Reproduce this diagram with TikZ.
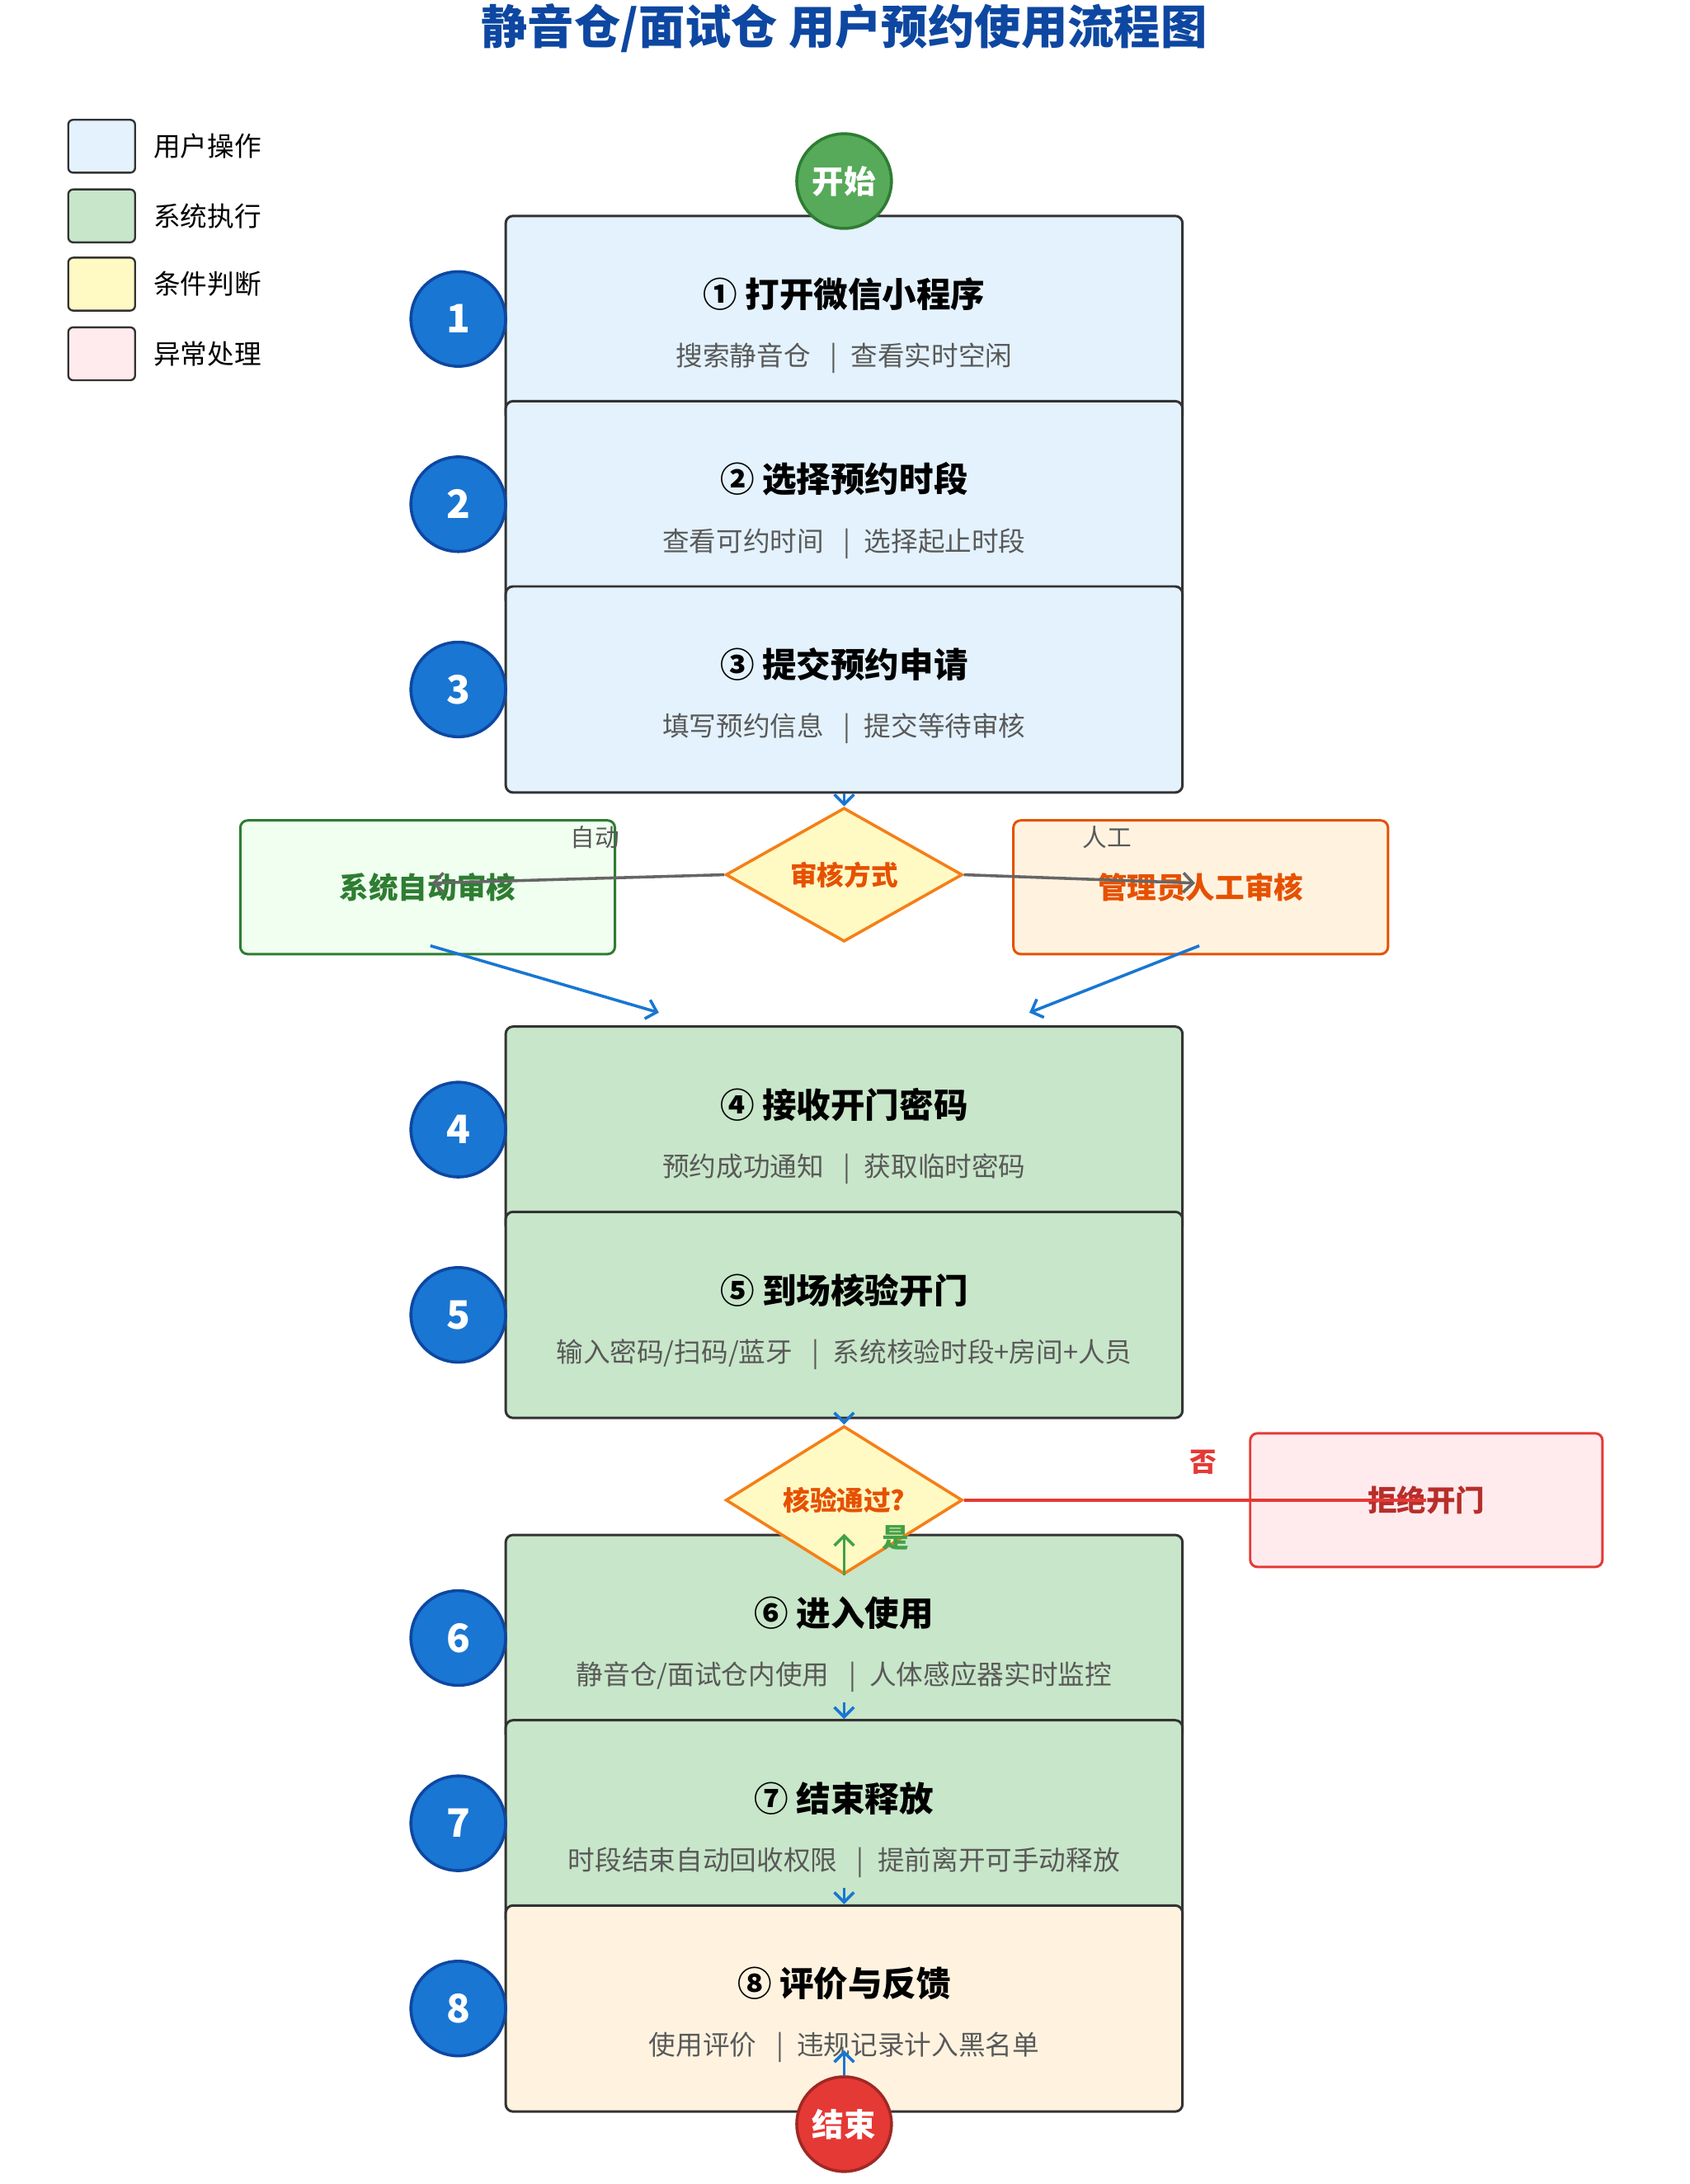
\documentclass[tikz,border=0pt]{standalone}
\usepackage{fontspec}
\setmainfont{Noto Sans CJK SC}
\usetikzlibrary{shapes.geometric,arrows.meta,positioning}
\definecolor{userfill}{HTML}{E3F2FD}
\definecolor{sysfill}{HTML}{C8E6C9}
\definecolor{condfill}{HTML}{FFF9C4}
\definecolor{errfill}{HTML}{FFEBEE}
\definecolor{endfill}{HTML}{FFF3E0}
\definecolor{numblue}{HTML}{1976D2}
\definecolor{numedge}{HTML}{0D47A1}
\definecolor{okgreen}{HTML}{43A047}
\definecolor{darkgreen}{HTML}{2E7D32}
\definecolor{darkorange}{HTML}{E65100}
\definecolor{condedge}{HTML}{F57F17}
\definecolor{errred}{HTML}{E53935}
\definecolor{titleblue}{HTML}{0D47A1}

\begin{document}
\begin{tikzpicture}[x=0.02cm, y=-0.02cm,
        stepbox/.style={rectangle, rounded corners=3pt, draw=black!80, line width=1pt, minimum width=9.72cm, minimum height=2.96cm},
        num/.style={circle, draw=numedge, line width=1.2pt, fill=numblue, minimum size=1.36cm, inner sep=0, text=white, font=\bfseries\fontsize{16}{18}\selectfont},
        term/.style={circle, line width=1.2pt, minimum size=1.36cm, inner sep=0, text=white, font=\bfseries\fontsize{13}{15}\selectfont},
        cond/.style={diamond, draw=condedge, line width=1.2pt, fill=condfill, minimum width=3.4cm, minimum height=1.84cm, inner sep=0, text=darkorange, font=\bfseries\fontsize{11}{13}\selectfont},
        side/.style={rectangle, rounded corners=3pt, line width=1pt, minimum width=5.38cm, minimum height=1.92cm, font=\bfseries\fontsize{12}{14}\selectfont},
        legbox/.style={rectangle, rounded corners=2pt, draw=black!80, line width=0.8pt, minimum width=0.96cm, minimum height=0.76cm},
        legtxt/.style={right, font=\fontsize{11}{13}\selectfont},
        arrow/.style={-{Straight Barb[length=4pt]}, line width=1.2pt, numblue}
    ]
    \useasboundingbox (0,0) rectangle (1213,1568);
    \node[font=\bfseries\fontsize{19}{22}\selectfont, text=titleblue] (title) at (606,20) {静音仓/面试仓 用户预约使用流程图};

    % legend
    \foreach \c/\y/\t in {userfill/105/用户操作, sysfill/155/系统执行, condfill/204/条件判断, errfill/254/异常处理}{
        \node[legbox, fill=\c] (leg\y) at (73,\y) {};
        \node[legtxt] at (104,\y) {\t};
    }

    % steps
    \foreach \i/\y/\c/\t/\s in {
        1/229/userfill/{① 打开微信小程序}/{搜索静音仓 \enspace|\enspace 查看实时空闲},
        2/362/userfill/{② 选择预约时段}/{查看可约时间 \enspace|\enspace 选择起止时段},
        3/495/userfill/{③ 提交预约申请}/{填写预约信息 \enspace|\enspace 提交等待审核},
        4/811/sysfill/{④ 接收开门密码}/{预约成功通知 \enspace|\enspace 获取临时密码},
        5/944/sysfill/{⑤ 到场核验开门}/{输入密码/扫码/蓝牙 \enspace|\enspace 系统核验时段+房间+人员},
        6/1176/sysfill/{⑥ 进入使用}/{静音仓/面试仓内使用 \enspace|\enspace 人体感应器实时监控},
        7/1309/sysfill/{⑦ 结束释放}/{时段结束自动回收权限 \enspace|\enspace 提前离开可手动释放},
        8/1442/endfill/{⑧ 评价与反馈}/{使用评价 \enspace|\enspace 违规记录计入黑名单}}{
        \node[stepbox, fill=\c] (s\i) at (606,\y) {};
        \node[font=\bfseries\fontsize{14}{16}\selectfont] at ([yshift=-1.14cm]s\i.north) {\t};
        \node[font=\fontsize{11}{13}\selectfont, text=black!65] at ([yshift=-2.06cm]s\i.north) {\s};
        \node[num] (n\i) at (329,\y) {\i};
    }

    \node[term, draw=darkgreen, fill=okgreen!90!white] (start) at (606,130) {开始};

    % review
    \node[cond] (mode) at (606,628) {审核方式};
    \node[side, draw=darkgreen, fill=green!6, text=darkgreen] (auto) at (307,637) {系统自动审核};
    \node[side, draw=darkorange, fill=endfill, text=darkorange] (manual) at (862,637) {管理员人工审核};
    \coordinate (autoend) at (310,634);
    \coordinate (manend) at (858,634);
    \draw[-{Straight Barb[length=4pt]}, line width=1.2pt, black!60] (mode.west) -- (autoend);
    \draw[-{Straight Barb[length=4pt]}, line width=1.2pt, black!60] (mode.east) -- (manend);
    \node[font=\fontsize{10}{12}\selectfont, text=black!65] at (427,601) {自动};
    \node[font=\fontsize{10}{12}\selectfont, text=black!65] at (795,601) {人工};
    \coordinate (a1) at (309,679);
    \coordinate (a2) at (473,727);
    \coordinate (m1) at (861,679);
    \coordinate (m2) at (739,727);
    \draw[arrow] (a1) -- (a2);
    \draw[arrow] (m1) -- (m2);
    \draw[arrow] (s3.south) -- (mode.north);

    % check
    \node[cond] (check) at (606,1077) {核验通过?};
    \node[side, minimum width=5.06cm, draw=errred, fill=errfill, text=errred!80!black] (deny) at (1024,1077) {拒绝开门};
    \draw[arrow] (s5.south) -- (check.north);
    \draw[line width=1.2pt, errred] (check.east) -- (deny.center);
    \node[font=\bfseries\fontsize{11}{13}\selectfont, text=errred] at (864,1050) {否};
    \draw[-{Straight Barb[length=4pt]}, line width=1.2pt, okgreen] (check.south) -- (s6.north);
    \node[font=\bfseries\fontsize{11}{13}\selectfont, text=okgreen] at (643,1104) {是};

    \draw[arrow] ([yshift=0.24cm]s7.north) -- (s7.north);
    \draw[arrow] ([yshift=0.24cm]s8.north) -- (s8.north);

    \node[term, draw=errred!70!black, fill=errred] (stop) at (606,1525) {结束};
    \draw[arrow] (stop.north) -- ([yshift=0.36cm]stop.north);
\end{tikzpicture}
\end{document}
